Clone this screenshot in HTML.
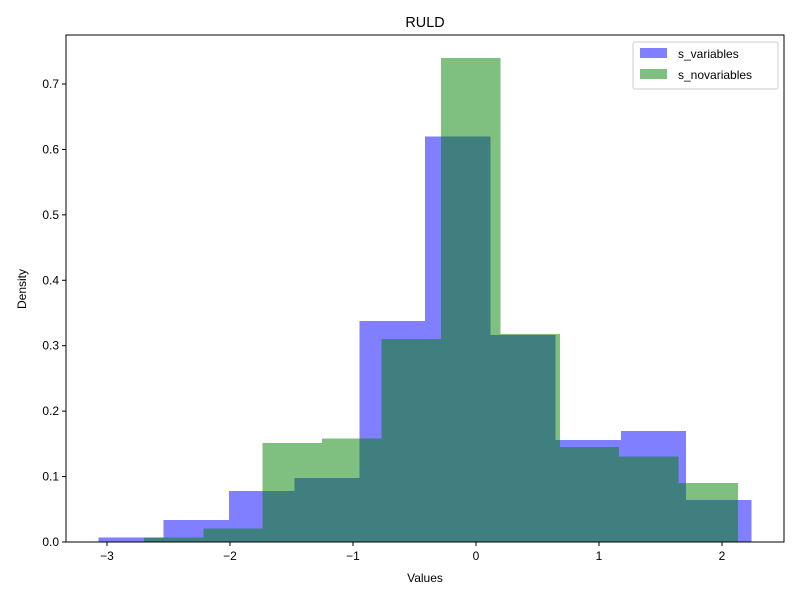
<!DOCTYPE html>
<html><head><meta charset="utf-8"><style>
body{margin:0;background:#fff;}
svg text{font-family:"Liberation Sans","DejaVu Sans",sans-serif;font-size:12px;fill:#000;}
</style></head><body>
<svg id="chart" width="800" height="600">
<rect x="0" y="0" width="800" height="600" fill="#fff"/>
<text x="425" y="27" text-anchor="middle" style="font-size:14.4px">RULD</text>
<g id="bars" shape-rendering="crispEdges"></g>
<g id="axes"></g>
<text x="425" y="582" text-anchor="middle">Values</text>
<text transform="translate(26,289) rotate(-90)" text-anchor="middle">Density</text>
<g>
<rect x="633" y="42" width="145" height="47" fill="#fff" fill-opacity="0.8" stroke="#ccc" rx="2"/>
<rect x="640" y="48" width="27" height="10" fill="rgba(0,0,255,0.5)"/>
<text x="678" y="58">s_variables</text>
<rect x="640" y="69" width="27" height="10" fill="rgba(0,128,0,0.5)"/>
<text x="678" y="79">s_novariables</text>
</g>
</svg>
<script>
const blueEdges=[-3.07,-2.539,-2.008,-1.477,-0.946,-0.415,0.116,0.647,1.178,1.709,2.24];
const blueValues=[0.007,0.034,0.078,0.098,0.338,0.62,0.316,0.156,0.17,0.064];
const greenEdges=[-2.70,-2.217,-1.734,-1.251,-0.768,-0.285,0.198,0.681,1.164,1.647,2.13];
const greenValues=[0.007,0.021,0.151,0.158,0.31,0.74,0.318,0.145,0.131,0.09];
const xTicks=[-3,-2,-1,0,1,2];
const yTicks=[0,0.1,0.2,0.3,0.4,0.5,0.6,0.7];
const L=66,R=784,T=35,B=542;
const xs=v=>476+v*123;
const ys=v=>B-v*654.3;
const NS="http://www.w3.org/2000/svg";
const bars=document.getElementById('bars'),axes=document.getElementById('axes');
function mk(t,a,p){const e=document.createElementNS(NS,t);for(const k in a)e.setAttribute(k,a[k]);p.appendChild(e);return e;}
function series(edges,vals,color,name){
  vals.forEach((v,i)=>{
    const x0=xs(edges[i]),x1=xs(edges[i+1]);
    const r=mk('rect',{x:x0,y:ys(v),width:x1-x0,height:B-ys(v),fill:color},bars);
    
    
  });
}
series(blueEdges,blueValues,'rgba(0,0,255,0.5)','s-variables');
series(greenEdges,greenValues,'rgba(0,128,0,0.5)','s-novariables');
const fr=mk('rect',{x:L,y:T,width:R-L,height:B-T,fill:'none',stroke:'#000','stroke-width':1},axes);


xTicks.forEach(t=>{
  mk('line',{x1:xs(t),x2:xs(t),y1:B,y2:B+4,stroke:'#000'},axes);
  const tx=mk('text',{x:xs(t),y:B+18,'text-anchor':'middle'},axes);
  tx.textContent=(t<0?'\u2212'+(-t):t);
  
  
});
yTicks.forEach(t=>{
  mk('line',{x1:L-4,x2:L,y1:ys(t),y2:ys(t),stroke:'#000'},axes);
  const tx=mk('text',{x:L-7,y:ys(t)+4,'text-anchor':'end'},axes);
  tx.textContent=t.toFixed(1);
  
  
});
</script>
</body></html>
